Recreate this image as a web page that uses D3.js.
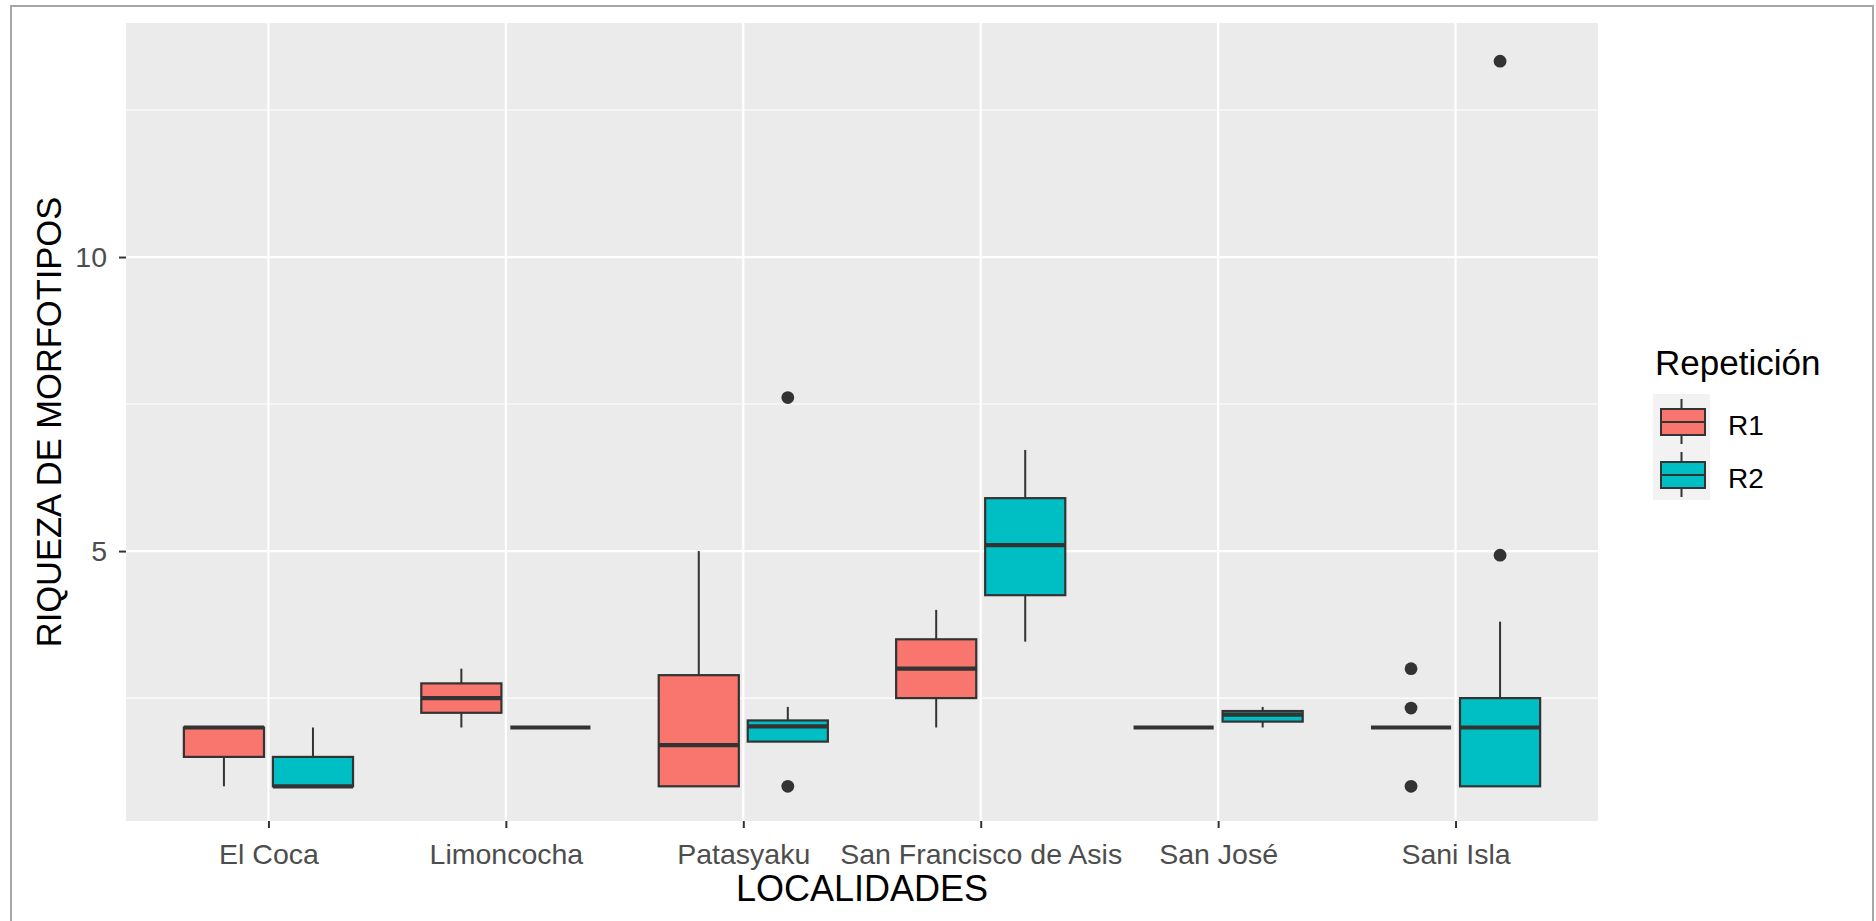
<!DOCTYPE html>
<html>
<head>
<meta charset="utf-8">
<script src="https://cdn.jsdelivr.net/npm/d3@7/dist/d3.min.js"></script>
<style>
  body { margin: 0; background: #fff; }
  text { font-family: "Liberation Sans", Arial, sans-serif; }
</style>
</head>
<body>
<svg id="chart" width="1876" height="921"></svg>
<script>
// data
const localidades = ["El Coca", "Limoncocha", "Patasyaku", "San Francisco de Asis", "San José", "Sani Isla"];
const repeticiones = ["R1", "R2"];
const colores = ["#F8766D", "#00BFC4"];

// per locality: [lower whisker, q1, median, q3, upper whisker]
const statsR1 = [
  [1, 1.5, 2, 2, 2],
  [2, 2.25, 2.5, 2.75, 3],
  [1, 1, 1.7, 2.89, 5],
  [2, 2.5, 3, 3.5, 4],
  [2, 2, 2, 2, 2],
  [2, 2, 2, 2, 2]
];
const statsR2 = [
  [1, 1, 1, 1.5, 2],
  [2, 2, 2, 2, 2],
  [1.76, 1.76, 2.02, 2.12, 2.35],
  [3.46, 4.25, 5.1, 5.9, 6.72],
  [2, 2.1, 2.22, 2.28, 2.35],
  [1, 1, 2, 2.5, 3.8]
];
const outliersR1 = [[], [], [], [], [], [1, 2.33, 3]];
const outliersR2 = [[], [], [7.61, 1], [], [], [4.93, 13.33]];

const yTicks = [5, 10];
const yMinor = [2.5, 7.5, 12.5];

const panel = { left: 126, right: 1598, top: 23, bottom: 821 };

const svg = d3.select("#chart");

// outer frame of the exported image
svg.append("rect")
  .attr("x", 11).attr("y", 6)
  .attr("width", 1862).attr("height", 940)
  .attr("fill", "#fff")
  .attr("stroke", "#a6a6a6")
  .attr("stroke-width", 2);

const x = d3.scalePoint()
  .domain(localidades)
  .range([panel.left, panel.right])
  .padding(0.6);

const step = x.step();

const xSub = d3.scaleBand()
  .domain(repeticiones)
  .range([-0.375 * step, 0.375 * step]);

const boxW = xSub.bandwidth() * 0.9;

const y = d3.scaleLinear()
  .domain([0.41, 13.98])
  .range([panel.bottom, panel.top]);

const color = d3.scaleOrdinal().domain(repeticiones).range(colores);

// panel background
svg.append("rect")
  .attr("x", panel.left).attr("y", panel.top)
  .attr("width", panel.right - panel.left)
  .attr("height", panel.bottom - panel.top)
  .attr("fill", "#EBEBEB");

// grid
svg.append("g").selectAll("line")
  .data(yMinor)
  .join("line")
  .attr("x1", panel.left).attr("x2", panel.right)
  .attr("y1", d => y(d)).attr("y2", d => y(d))
  .attr("stroke", "#fff").attr("stroke-width", 1.1);

svg.append("g").selectAll("line")
  .data(yTicks)
  .join("line")
  .attr("x1", panel.left).attr("x2", panel.right)
  .attr("y1", d => y(d)).attr("y2", d => y(d))
  .attr("stroke", "#fff").attr("stroke-width", 2.2);

svg.append("g").selectAll("line")
  .data(localidades)
  .join("line")
  .attr("x1", d => x(d)).attr("x2", d => x(d))
  .attr("y1", panel.top).attr("y2", panel.bottom)
  .attr("stroke", "#fff").attr("stroke-width", 2.2);

// boxes
const series = [
  { key: "R1", stats: statsR1, outliers: outliersR1 },
  { key: "R2", stats: statsR2, outliers: outliersR2 }
];

series.forEach(s => {
  const g = svg.append("g");
  s.stats.forEach((st, i) => {
    const cx = x(localidades[i]) + xSub(s.key) + xSub.bandwidth() / 2;
    const [lo, q1, med, q3, hi] = st;

    g.append("line")
      .attr("x1", cx).attr("x2", cx)
      .attr("y1", y(hi)).attr("y2", y(q3))
      .attr("stroke", "#333").attr("stroke-width", 2);
    g.append("line")
      .attr("x1", cx).attr("x2", cx)
      .attr("y1", y(q1)).attr("y2", y(lo))
      .attr("stroke", "#333").attr("stroke-width", 2);

    g.append("rect")
      .attr("x", cx - boxW / 2)
      .attr("y", y(q3))
      .attr("width", boxW)
      .attr("height", y(q1) - y(q3))
      .attr("fill", color(s.key))
      .attr("stroke", "#333")
      .attr("stroke-width", 2.2);

    g.append("line")
      .attr("x1", cx - boxW / 2).attr("x2", cx + boxW / 2)
      .attr("y1", y(med)).attr("y2", y(med))
      .attr("stroke", "#333").attr("stroke-width", 4.2);

    g.selectAll(null)
      .data(s.outliers[i])
      .join("circle")
      .attr("cx", cx)
      .attr("cy", d => y(d))
      .attr("r", 6.4)
      .attr("fill", "#333");
  });
});

// axes
const yAxis = svg.append("g")
  .attr("transform", "translate(" + panel.left + ",0)")
  .call(d3.axisLeft(y).tickValues(yTicks).tickSize(7).tickPadding(12).tickFormat(d3.format("d")));

const xAxis = svg.append("g")
  .attr("transform", "translate(0," + panel.bottom + ")")
  .call(d3.axisBottom(x).tickSize(7).tickPadding(16));

[xAxis, yAxis].forEach(a => {
  a.select(".domain").remove();
  a.selectAll(".tick line").attr("stroke", "#333").attr("stroke-width", 2);
  a.selectAll(".tick text")
    .attr("fill", "#4D4D4D")
    .attr("font-size", "28.5px")
    .attr("font-family", "Liberation Sans, Arial, sans-serif");
});

// axis titles
svg.append("text")
  .attr("x", (panel.left + panel.right) / 2)
  .attr("y", 901)
  .attr("text-anchor", "middle")
  .attr("font-size", "36px")
  .attr("fill", "#000")
  .text("LOCALIDADES");

svg.append("text")
  .attr("transform", "translate(61," + (panel.top + panel.bottom) / 2 + ") rotate(-90)")
  .attr("text-anchor", "middle")
  .attr("font-size", "34.5px")
  .attr("fill", "#000")
  .text("RIQUEZA DE MORFOTIPOS");

// legend
const legend = svg.append("g").attr("transform", "translate(1653,0)");

legend.append("text")
  .attr("x", 2).attr("y", 375)
  .attr("font-size", "35px")
  .attr("fill", "#000")
  .text("Repetición");

const keyH = 53;
const keys = legend.selectAll("g.key")
  .data(repeticiones)
  .join("g")
  .attr("class", "key")
  .attr("transform", (d, i) => "translate(0," + (394 + i * keyH) + ")");

keys.append("rect")
  .attr("width", 57).attr("height", keyH)
  .attr("fill", "#F2F2F2");

keys.append("line")
  .attr("x1", 28.5).attr("x2", 28.5)
  .attr("y1", 5).attr("y2", keyH - 3)
  .attr("stroke", "#333").attr("stroke-width", 2);

keys.append("rect")
  .attr("x", 8).attr("y", 15)
  .attr("width", 44).attr("height", 26)
  .attr("fill", d => color(d))
  .attr("stroke", "#333").attr("stroke-width", 2);

keys.append("line")
  .attr("x1", 8).attr("x2", 52)
  .attr("y1", 28).attr("y2", 28)
  .attr("stroke", "#333").attr("stroke-width", 2);

keys.append("text")
  .attr("x", 75).attr("y", 41)
  .attr("font-size", "28px")
  .attr("fill", "#000")
  .text(d => d);
</script>
</body>
</html>
